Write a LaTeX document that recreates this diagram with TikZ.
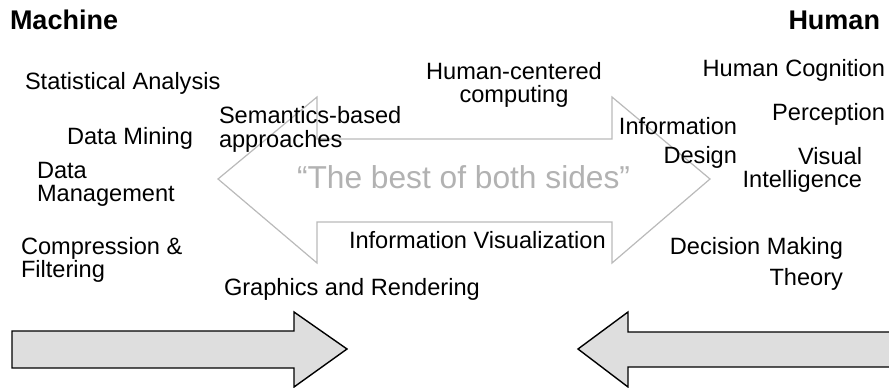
\documentclass[tikz,border=0pt]{standalone}
\usepackage{fontspec}
\setmainfont{Liberation Sans}
\begin{document}
\begin{tikzpicture}[x=1pt,y=-1pt,
  lbl/.style={inner sep=0pt, outer sep=0pt, font=\fontsize{23.6}{23}\selectfont},
  head/.style={inner sep=0pt, outer sep=0pt, font=\fontsize{27}{27}\selectfont\bfseries},
  bigarrow/.style={draw=black!27, fill=white, line width=1.2pt, line join=miter},
  sidearrow/.style={draw=black, fill=black!13, line width=1.4pt, line join=miter}]
\useasboundingbox (0,0) rectangle (889,388);
\clip (0,0) rectangle (889,388);
% central double arrow
\draw[bigarrow] (218,179) -- (317,97) -- (317,139) -- (612,139) -- (612,97) -- (710,179)
  -- (612,263) -- (612,222) -- (317,222) -- (317,263) -- cycle;
% bottom arrows
\draw[sidearrow] (12,331) -- (294,331) -- (294,312) -- (347,349) -- (294,387) -- (294,368) -- (12,368) -- cycle;
\draw[sidearrow] (905,332) -- (628,332) -- (628,312) -- (578,349) -- (628,387) -- (628,367) -- (905,367);
% headings
\node[head, anchor=base west] (machine) at (10,29) {Machine};
\node[head, anchor=base east] (human) at (880,29) {Human};
% machine side
\node[lbl, anchor=base west] (stat) at (25,89) {Statistical Analysis};
\node[lbl, anchor=base west] (mining) at (67,144) {Data Mining};
\node[lbl, anchor=base west, align=left, font=\fontsize{23.6}{22.5}\selectfont] (mgmt) at (37,201) {Data\\Management};
\node[lbl, anchor=base west, align=left, font=\fontsize{23.6}{22.5}\selectfont] (comp) at (21,277) {Compression \&\\Filtering};
\node[lbl, anchor=base west, align=left, font=\fontsize{23.6}{23.5}\selectfont] (sem) at (219,147) {Semantics-based\\approaches};
\node[lbl, anchor=base west] (graphics) at (224,295) {Graphics and Rendering};
% middle
\node[lbl, anchor=base, align=center, font=\fontsize{23.6}{23}\selectfont] (hcc) at (514,102) {Human-centered\\computing};
\node[lbl, anchor=base west] (infovis) at (349,248) {Information Visualization};
\node[inner sep=0pt, outer sep=0pt, anchor=base west, text=black!30, font=\fontsize{31.7}{32}\selectfont] (best) at (297,188) {“The best of both sides”};
% human side
\node[lbl, anchor=base east, align=right, font=\fontsize{23.6}{29}\selectfont] (infodes) at (737,163) {Information\\Design};
\node[lbl, anchor=base east] (cog) at (885,76) {Human Cognition};
\node[lbl, anchor=base east] (perc) at (885,120) {Perception};
\node[lbl, anchor=base east, align=right, font=\fontsize{23.6}{22.5}\selectfont] (visint) at (862,187) {Visual\hspace{4pt}\\Intelligence};
\node[lbl, anchor=base east, align=right, font=\fontsize{23.6}{31}\selectfont] (dec) at (843,285) {Decision Making\\Theory};
\end{tikzpicture}
\end{document}
